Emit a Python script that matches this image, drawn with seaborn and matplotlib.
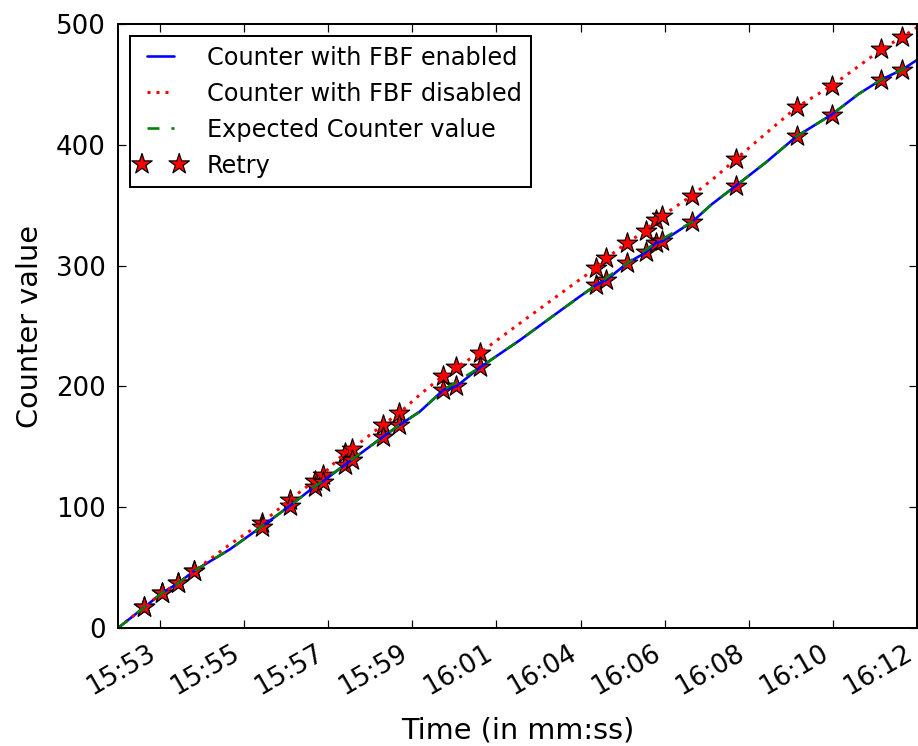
import matplotlib
matplotlib.use("Agg")
import matplotlib.pyplot as plt
import seaborn as sns
import numpy as np
import pandas as pd
from matplotlib.ticker import FixedLocator
from matplotlib.collections import PathCollection
from matplotlib.legend_handler import HandlerPathCollection

# ---------------- data (time in seconds after 15:00) ----------------
enabled_t = [952.00, 952.68, 953.15, 953.57, 953.98, 954.92, 955.76, 956.49, 957.14,
             957.35, 957.93, 958.11, 958.92, 959.36, 959.89, 960.51, 960.85, 961.48,
             962.50, 963.54, 964.06, 964.51, 964.77, 965.32, 965.81, 966.07, 966.23,
             967.01, 967.54, 968.16, 968.97, 969.75, 970.67, 971.37, 971.97, 972.50,
             972.89]
enabled_v = [0, 17, 29, 37, 47, 65, 84, 101, 117, 121, 135, 139, 158, 168, 179, 197,
             200, 216, 238, 262, 274, 284, 288, 302, 311, 319, 320, 336, 351, 366,
             386, 407, 425, 442, 454, 462, 470]

disabled_t = [952.00, 952.68, 953.15, 953.57, 953.98, 954.92, 955.76, 956.49, 957.14,
              957.35, 957.93, 958.11, 958.92, 959.36, 959.89, 960.51, 960.85, 961.48,
              962.50, 963.54, 964.06, 964.51, 964.77, 965.32, 965.81, 966.07, 966.23,
              967.01, 967.54, 968.16, 968.97, 969.75, 970.67, 971.37, 971.97, 972.50,
              972.89]
disabled_v = [0, 17, 29, 37, 47, 69, 87, 106, 122, 127, 145, 148, 168, 178, 193, 209,
              216, 228, 252, 276, 288, 298, 306, 319, 329, 338, 341, 358, 371, 388,
              410, 431, 449, 465, 479, 489, 497]

expected_t = [952.00, 952.68, 953.15, 953.57, 953.98, 954.92, 955.76, 956.49, 957.14,
              957.93, 958.92, 959.36, 959.89, 960.51, 961.48, 962.50, 963.54, 964.51,
              965.32, 966.07, 967.01, 967.54, 968.16, 968.97, 969.75, 970.67, 971.37,
              971.97, 972.50, 972.89]
expected_v = [0, 17, 29, 37, 47, 65, 84, 101, 117, 135, 158, 168, 179, 197, 216, 238,
              262, 284, 302, 319, 336, 351, 366, 386, 407, 425, 442, 454, 462, 470]

retry_t = [952.68, 953.15, 953.57, 953.98, 955.76, 956.49, 957.14, 957.35, 957.93,
           958.11, 958.92, 959.36, 960.51, 960.85, 961.48, 964.51, 964.77, 965.32,
           965.81, 966.07, 966.23, 967.01, 968.16, 969.75, 970.67, 971.97, 972.50]
retry_disabled_v = [17, 29, 37, 47, 87, 106, 122, 127, 145, 148, 168, 178, 209, 216,
                    228, 298, 306, 319, 329, 338, 341, 358, 388, 431, 449, 479, 489]
retry_enabled_v = [17, 29, 37, 47, 84, 101, 117, 121, 135, 139, 158, 168, 197, 200,
                   216, 284, 288, 302, 311, 319, 320, 336, 366, 407, 425, 454, 462]

tick_times = [953.1, 955.3, 957.5, 959.7, 961.9, 964.1, 966.3, 968.5, 970.7, 972.9]
tick_labels = ["15:53", "15:55", "15:57", "15:59", "16:01", "16:04", "16:06",
               "16:08", "16:10", "16:12"]
y_ticks = [0, 100, 200, 300, 400, 500]

labels = ["Counter with FBF enabled", "Counter with FBF disabled",
          "Expected Counter value", "Retry"]

# ---------------- style ----------------
sns.set_style("ticks")
plt.rcParams.update({
    "font.family": ["DejaVu Sans"],
    "font.size": 12,
    "axes.linewidth": 1.0,
    "axes.edgecolor": "black",
    "xtick.direction": "in",
    "ytick.direction": "in",
    "xtick.top": True,
    "ytick.right": True,
    "xtick.major.size": 4,
    "ytick.major.size": 4,
    "xtick.major.width": 0.6,
    "ytick.major.width": 0.6,
    "xtick.major.pad": 6,
    "ytick.major.pad": 6,
    "xtick.color": "black",
    "ytick.color": "black",
    "xtick.labelsize": 13,
    "ytick.labelsize": 13,
    "axes.labelsize": 14.4,
    "text.color": "black",
    "axes.labelcolor": "black",
})

fig = plt.figure(figsize=(918 / 144, 746 / 144), dpi=144)
ax = fig.add_axes([118 / 918, 1 - 628 / 746, 799 / 918, (628 - 24) / 746])

sns.lineplot(x=enabled_t, y=enabled_v, ax=ax, color=(0, 0, 1), linewidth=1.3,
             estimator=None, sort=False, label=labels[0])
sns.lineplot(x=disabled_t, y=disabled_v, ax=ax, color=(1, 0, 0), linewidth=1.5,
             linestyle=(0, (1, 2)), estimator=None, sort=False, label=labels[1])
sns.lineplot(x=expected_t, y=expected_v, ax=ax, color=(0, 0.5, 0), linewidth=1.3,
             linestyle=(0, (4.6, 4.6)), estimator=None, sort=False, label=labels[2])

retry_df = pd.DataFrame({
    "t": retry_t + retry_t,
    "v": retry_disabled_v + retry_enabled_v,
})
sns.scatterplot(data=retry_df, x="t", y="v", ax=ax, marker="*", s=115,
                color=(1, 0, 0), edgecolor="black", linewidth=0.6,
                label=labels[3], zorder=1)

ax.set_xlim(952.0, 972.9)
ax.set_ylim(0, 500)
ax.xaxis.set_major_locator(FixedLocator(tick_times))
ax.set_xticklabels(tick_labels, rotation=30, ha="right")
ax.set_yticks(y_ticks)
ax.set_yticklabels([str(v) for v in y_ticks])
ax.set_xlabel("Time (in mm:ss)", labelpad=8)
ax.set_ylabel("Counter value", labelpad=6)
for s in ax.spines.values():
    s.set_visible(True)
    s.set_linewidth(1.0)

leg = ax.legend(loc="upper left", fontsize=12, frameon=True, fancybox=False,
                edgecolor="black", framealpha=1, borderaxespad=0.5,
                handlelength=1.75, handletextpad=1.05, numpoints=2,
                scatterpoints=2, scatteryoffsets=[0.5], labelspacing=0.5,
                borderpad=0.4,
                handler_map={PathCollection: HandlerPathCollection(marker_pad=0.1)})
leg.get_frame().set_linewidth(1.0)

fig.savefig("out.png", dpi=144)
